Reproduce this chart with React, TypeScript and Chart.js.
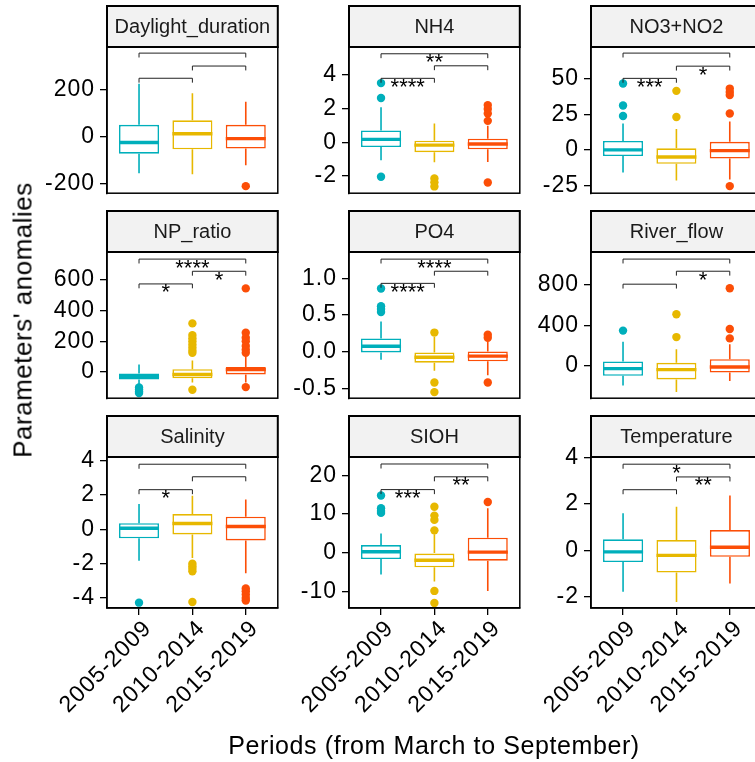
import React, { useEffect, useRef } from "react";
import { Chart, registerables } from "chart.js";

Chart.register(...registerables);

// ---------- data ----------
const PERIODS = ["2005-2009", "2010-2014", "2015-2019"];
const COLORS = ["#00AFBB", "#E7B800", "#FC4E07"];
const PARAMETERS = ["Daylight_duration", "NH4", "NO3+NO2", "NP_ratio", "PO4", "River_flow", "Salinity", "SIOH", "Temperature"];
const COMPARISONS = [[1, 2], [2, 3], [1, 3]];

// box stats per period: [lower whisker, Q1, median, Q3, upper whisker]
const daylightBox = [[-154, -71, -23, 52, 227], [-158, -52, 14, 71, 186], [-120, -49, -7, 52, 150]];
const daylightOut = [[], [], [-209]];
const daylightBrackets = [250, 302, 357];
const daylightSig = ["", "", ""];
const daylightTicks = [-200, 0, 200];
const daylightRange = [-239, 383];

const nh4Box = [[-1.07, -0.29, 0.17, 0.69, 2.06], [-1.18, -0.59, -0.17, 0.09, 1.1], [-1.17, -0.42, -0.11, 0.21, 0.97]];
const nh4Out = [[3.49, 2.61, -2.04], [-2.14, -2.37, -2.61], [2.19, 1.96, 1.69, 1.26, -2.38]];
const nh4Brackets = [3.77, 4.51, 5.22];
const nh4Sig = ["****", "", "**"];
const nh4Ticks = [-2, 0, 2, 4];
const nh4Range = [-3.01, 5.62];

const no3Box = [[-15.9, -4.3, 0, 6.3, 18.6], [-21.6, -9.8, -5.0, 1.1, 14.7], [-20.9, -6.1, -0.5, 5.7, 20]];
const no3Out = [[46.8, 31.3, 23.9], [41.6, 23.2], [43.2, 40.8, 38.6, 25.6, -25.5]];
const no3Brackets = [50.4, 59, 68.2];
const no3Sig = ["***", "*", ""];
const no3Ticks = [-25, 0, 25, 50];
const no3Range = [-30.5, 72.5];

const npBox = [[-82, -47, -30, -9, 50], [-68, -40, -15, 19, 76], [-68, -15, 16, 33, 101]];
const npOut = [[-100, -112, -125, -135], [316, 240, 220, 200, 180, 160, 140, 125, -114], [543, 255, 223, 200, 170, 145, 125, -97]];
const npBrackets = [572, 654, 733];
const npSig = ["*", "*", "****"];
const npTicks = [0, 200, 400, 600];
const npRange = [-169, 779];

const po4Box = [[-0.11, -0.01, 0.074, 0.18, 0.41], [-0.26, -0.15, -0.076, -0.01, 0.2], [-0.32, -0.13, -0.06, 0.004, 0.14]];
const po4Out = [[0.86, 0.62, 0.58, 0.54], [0.26, -0.42, -0.55], [0.23, 0.19, -0.42]];
const po4Brackets = [0.93, 1.095, 1.26];
const po4Sig = ["****", "", "****"];
const po4Ticks = [-0.5, 0, 0.5, 1];
const po4Range = [-0.633, 1.357];

const riverBox = [[-193, -96, -26, 45, 241], [-257, -132, -36, 32, 167], [-148, -64, -10, 67, 215]];
const riverOut = [[350], [511, 286], [768, 366, 273]];
const riverBrackets = [809, 937, 1057];
const riverSig = ["", "*", ""];
const riverTicks = [0, 400, 800];
const riverRange = [-318, 1127];

const salinityBox = [[-1.83, -0.53, 0.06, 0.35, 1.47], [-1.67, -0.3, 0.33, 0.88, 1.95], [-2.56, -0.65, 0.16, 0.73, 1.73]];
const salinityOut = [[-4.27], [-2.0, -2.15, -2.3, -2.45, -4.23], [-3.45, -3.6, -3.8, -4.0, -4.15]];
const salinityBrackets = [2.3, 3.05, 3.78];
const salinitySig = ["*", "", ""];
const salinityTicks = [-4, -2, 0, 2, 4];
const salinityRange = [-4.58, 4.2];

const siohBox = [[-5.6, -1.6, 0.3, 2.0, 5.0], [-7.4, -3.7, -1.9, 0, 4.8], [-9.8, -2.0, 0.2, 3.9, 11.5]];
const siohOut = [[14.8, 11.5, 10.8, 10.3], [11.9, 9.6, 8.5, 5.8, -9.8, -12.9], [13.1]];
const siohBrackets = [16.3, 19.6, 22.9];
const siohSig = ["***", "**", ""];
const siohTicks = [-10, 0, 10, 20];
const siohRange = [-14.2, 24.7];

const tempBox = [[-1.79, -0.51, -0.07, 0.47, 1.6], [-2.23, -0.96, -0.22, 0.44, 1.88], [-1.43, -0.28, 0.13, 0.87, 2.36]];
const tempOut = [[], [], []];
const tempBrackets = [2.61, 3.16, 3.71];
const tempSig = ["", "**", "*"];
const tempTicks = [-2, 0, 2, 4];
const tempRange = [-2.49, 4.02];

const PANELS = [
  { name: PARAMETERS[0], box: daylightBox, out: daylightOut, brackets: daylightBrackets, sig: daylightSig, ticks: daylightTicks, range: daylightRange, dec: 0 },
  { name: PARAMETERS[1], box: nh4Box, out: nh4Out, brackets: nh4Brackets, sig: nh4Sig, ticks: nh4Ticks, range: nh4Range, dec: 0 },
  { name: PARAMETERS[2], box: no3Box, out: no3Out, brackets: no3Brackets, sig: no3Sig, ticks: no3Ticks, range: no3Range, dec: 0 },
  { name: PARAMETERS[3], box: npBox, out: npOut, brackets: npBrackets, sig: npSig, ticks: npTicks, range: npRange, dec: 0 },
  { name: PARAMETERS[4], box: po4Box, out: po4Out, brackets: po4Brackets, sig: po4Sig, ticks: po4Ticks, range: po4Range, dec: 1 },
  { name: PARAMETERS[5], box: riverBox, out: riverOut, brackets: riverBrackets, sig: riverSig, ticks: riverTicks, range: riverRange, dec: 0 },
  { name: PARAMETERS[6], box: salinityBox, out: salinityOut, brackets: salinityBrackets, sig: salinitySig, ticks: salinityTicks, range: salinityRange, dec: 0 },
  { name: PARAMETERS[7], box: siohBox, out: siohOut, brackets: siohBrackets, sig: siohSig, ticks: siohTicks, range: siohRange, dec: 0 },
  { name: PARAMETERS[8], box: tempBox, out: tempOut, brackets: tempBrackets, sig: tempSig, ticks: tempTicks, range: tempRange, dec: 0 },
];

// ---------- layout ----------
const FONT = "'Liberation Sans', Arial, Helvetica, sans-serif";
const TICK_SIZE = 23;
const TICK_SPACING = "1px";
const SIG_SIZE = 22;
const STRIP_SIZE = 20;
const PANEL_LEFT = [107, 349, 591];
const PANEL_TOP = [47, 252, 457];
const PANEL_W = 171;
const PANEL_H = 151;
const STRIP_H = 41;
const YAXIS_W = 85;
const PAD_TOP = STRIP_H + 3;
const PAD_RIGHT = 4;
const PAD_BOTTOM = 14;
const XAXIS_H = 130;

type PanelT = (typeof PANELS)[number];

function PanelChart({ panel, row, col }: { panel: PanelT; row: number; col: number }) {
  const ref = useRef<HTMLCanvasElement | null>(null);
  const isBottom = row === 2;
  const w = YAXIS_W + PANEL_W + PAD_RIGHT;
  const h = PAD_TOP + PANEL_H + (isBottom ? XAXIS_H : PAD_BOTTOM);

  useEffect(() => {
    if (!ref.current) return;
    const [ymin, ymax] = panel.range;

    const extras = {
      id: "boxExtras",
      beforeInit(chart: any) {
        chart.ctx.letterSpacing = TICK_SPACING;
      },
      beforeDraw(chart: any) {
        chart.ctx.letterSpacing = TICK_SPACING;
      },
      beforeDatasetsDraw(chart: any) {
        const { ctx, scales } = chart;
        const xs = scales.x, ys = scales.y;
        ctx.save();
        ctx.lineWidth = 1.6;
        panel.box.forEach((b: number[], i: number) => {
          const x = xs.getPixelForValue(i + 1);
          ctx.strokeStyle = COLORS[i];
          ctx.beginPath();
          ctx.moveTo(x, ys.getPixelForValue(b[3]));
          ctx.lineTo(x, ys.getPixelForValue(b[4]));
          ctx.moveTo(x, ys.getPixelForValue(b[1]));
          ctx.lineTo(x, ys.getPixelForValue(b[0]));
          ctx.stroke();
        });
        ctx.restore();
      },
      afterDatasetsDraw(chart: any) {
        const { ctx, scales } = chart;
        const xs = scales.x, ys = scales.y;
        const meta = chart.getDatasetMeta(0);
        ctx.save();
        // medians
        panel.box.forEach((b: number[], i: number) => {
          const bar = meta.data[i];
          const x = xs.getPixelForValue(i + 1);
          const hw = bar.width / 2;
          const y = ys.getPixelForValue(b[2]);
          ctx.strokeStyle = COLORS[i];
          ctx.lineWidth = 3.4;
          ctx.beginPath();
          ctx.moveTo(x - hw, y);
          ctx.lineTo(x + hw, y);
          ctx.stroke();
        });
        // brackets
        const tipVal = 0.03 * (ymax - ymin);
        ctx.letterSpacing = "0px";
        ctx.font = `${SIG_SIZE}px ${FONT}`;
        ctx.textAlign = "center";
        ctx.textBaseline = "alphabetic";
        COMPARISONS.forEach(([a, b], k) => {
          const xa = xs.getPixelForValue(a);
          const xb = xs.getPixelForValue(b);
          const y = ys.getPixelForValue(panel.brackets[k]);
          const yt = ys.getPixelForValue(panel.brackets[k] - tipVal);
          ctx.strokeStyle = "#222";
          ctx.lineWidth = 1;
          ctx.beginPath();
          ctx.moveTo(xa, yt);
          ctx.lineTo(xa, y);
          ctx.lineTo(xb, y);
          ctx.lineTo(xb, yt);
          ctx.stroke();
          const s = panel.sig[k];
          if (s) {
            const m = ctx.measureText(s);
            const asc = m.actualBoundingBoxAscent;
            const desc = m.actualBoundingBoxDescent;
            const center = y + 4.5;
            const base = center - (desc - asc) / 2;
            ctx.fillStyle = "#000";
            ctx.fillText(s, (xa + xb) / 2, base);
          }
        });
        ctx.restore();
      },
      afterDraw(chart: any) {
        const { ctx, chartArea } = chart;
        const { left, right, top, bottom } = chartArea;
        ctx.save();
        ctx.letterSpacing = "0px";
        // panel border
        ctx.strokeStyle = "#000";
        ctx.lineWidth = 1.5;
        ctx.strokeRect(left, top, right - left, bottom - top);
        // strip
        ctx.fillStyle = "#F2F2F2";
        ctx.fillRect(left, top - STRIP_H, right - left, STRIP_H);
        ctx.lineWidth = 2;
        ctx.strokeRect(left, top - STRIP_H, right - left, STRIP_H);
        ctx.fillStyle = "#1A1A1A";
        ctx.font = `${STRIP_SIZE}px ${FONT}`;
        ctx.textAlign = "center";
        ctx.textBaseline = "middle";
        ctx.fillText(panel.name, (left + right) / 2, top - STRIP_H / 2 + 1);
        ctx.restore();
      },
    };

    const outData: { x: number; y: number }[] = [];
    const outColors: string[] = [];
    panel.out.forEach((vals: number[], i: number) => {
      vals.forEach((v) => {
        outData.push({ x: i + 1, y: v });
        outColors.push(COLORS[i]);
      });
    });

    const tickFont = { family: FONT, size: TICK_SIZE };

    const chart = new Chart(ref.current, {
      type: "bar",
      data: {
        datasets: [
          {
            type: "bar",
            data: PERIODS.map((_, i) => ({ x: i + 1, y: [panel.box[i][1], panel.box[i][3]] })) as any,
            backgroundColor: "#FFFFFF",
            borderColor: COLORS,
            borderWidth: 1.6,
            borderSkipped: false,
            barPercentage: 0.75,
            categoryPercentage: 1,
            order: 2,
          },
          {
            type: "scatter",
            data: outData as any,
            pointBackgroundColor: outColors,
            pointBorderColor: outColors,
            pointBorderWidth: 0,
            pointRadius: 4.2,
            order: 1,
          } as any,
        ],
      },
      options: {
        animation: false,
        responsive: false,
        maintainAspectRatio: false,
        layout: { padding: { top: PAD_TOP, right: PAD_RIGHT, bottom: isBottom ? 0 : PAD_BOTTOM, left: 0 } },
        plugins: { legend: { display: false }, tooltip: { enabled: false }, title: { display: false } },
        scales: {
          x: {
            type: "linear",
            min: 0.4,
            max: 3.6,
            offset: false,
            display: isBottom,
            afterBuildTicks: (s: any) => {
              s.ticks = PERIODS.map((_, i) => ({ value: i + 1 }));
            },
            afterFit: (s: any) => {
              if (isBottom) s.height = XAXIS_H;
            },
            ticks: {
              autoSkip: false,
              includeBounds: false,
              minRotation: 45,
              maxRotation: 45,
              padding: 0,
              labelOffset: 9,
              color: "#000",
              font: tickFont,
              callback: (v: any) => PERIODS[Math.round(Number(v)) - 1] ?? "",
            },
            grid: { display: true, offset: false, drawOnChartArea: false, drawTicks: true, tickLength: 7, color: "#000", lineWidth: 1.3 },
            border: { display: true, color: "#000", width: 1.5 },
          },
          y: {
            type: "linear",
            min: ymin,
            max: ymax,
            afterBuildTicks: (s: any) => {
              s.ticks = panel.ticks.map((v: number) => ({ value: v }));
            },
            afterFit: (s: any) => {
              s.width = YAXIS_W;
            },
            ticks: {
              padding: 5,
              color: "#000",
              font: tickFont,
              callback: (v: any) => Number(v).toFixed(panel.dec),
            },
            grid: { display: true, drawOnChartArea: false, drawTicks: true, tickLength: 7, color: "#000", lineWidth: 1.3 },
            border: { display: true, color: "#000", width: 1.5 },
          },
        },
      } as any,
      plugins: [extras],
    });
    return () => chart.destroy();
  }, []);

  return (
    <canvas
      ref={ref}
      width={w}
      height={h}
      style={{ position: "absolute", left: PANEL_LEFT[col] - YAXIS_W, top: PANEL_TOP[row] - PAD_TOP, width: w, height: h }}
    />
  );
}

export default function App() {
  return (
    <div style={{ position: "absolute", left: 0, top: 0, width: 755, height: 762, overflow: "hidden", background: "#FFFFFF" }}>
      {PANELS.map((p, i) => (
        <PanelChart key={p.name} panel={p} row={Math.floor(i / 3)} col={i % 3} />
      ))}
      <div
        style={{
          position: "absolute",
          left: 23,
          top: 320,
          transform: "translate(-50%, -50%) rotate(-90deg)",
          whiteSpace: "nowrap",
          font: `26px ${FONT}`,
          letterSpacing: "0.5px",
          color: "#000",
        }}
      >
        Parameters' anomalies
      </div>
      <div
        style={{
          position: "absolute",
          left: 434,
          top: 745,
          transform: "translate(-50%, -50%)",
          whiteSpace: "nowrap",
          font: `25px ${FONT}`,
          letterSpacing: "0.6px",
          color: "#000",
        }}
      >
        Periods (from March to September)
      </div>
    </div>
  );
}
